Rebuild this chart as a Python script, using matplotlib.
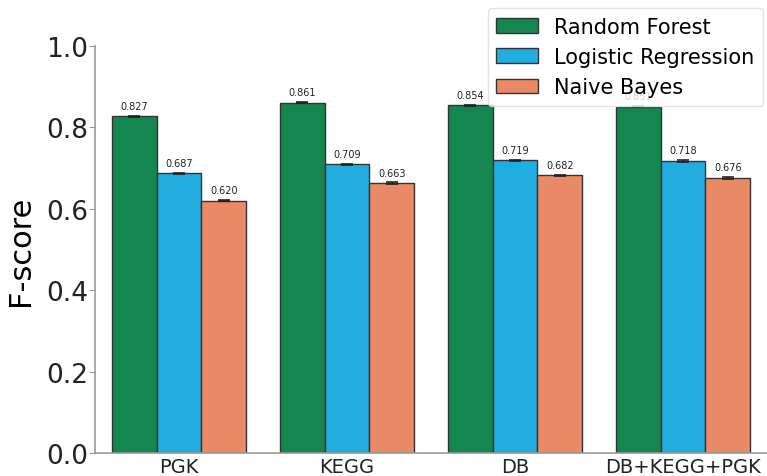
import matplotlib.pyplot as plt
import numpy as np

categories = ["PGK", "KEGG", "DB", "DB+KEGG+PGK"]
models = ["Random Forest", "Logistic Regression", "Naive Bayes"]
rf_scores = [0.827, 0.861, 0.854, 0.851]
lr_scores = [0.687, 0.709, 0.719, 0.718]
nb_scores = [0.620, 0.663, 0.682, 0.676]
rf_err = [0.002, 0.002, 0.002, 0.002]
lr_err = [0.002, 0.002, 0.002, 0.002]
nb_err = [0.002, 0.002, 0.002, 0.002]

colors = ["#13874f", "#22ade0", "#e98965"]

fig = plt.figure(figsize=(7.67, 4.77), dpi=100)
ax = fig.add_axes([95 / 767, 23 / 477, 672 / 767, 407 / 477])

x = np.arange(len(categories))
width = 0.8 / 3
series = [(rf_scores, rf_err), (lr_scores, lr_err), (nb_scores, nb_err)]
for i, (vals, errs) in enumerate(series):
    pos = x + (i - 1) * width
    ax.bar(pos, vals, width, yerr=errs, color=colors[i], edgecolor="#333333",
           linewidth=1.0, label=models[i], capsize=4,
           error_kw=dict(ecolor="#222222", elinewidth=1.2, capthick=1.2))
    for p, v in zip(pos, vals):
        ax.annotate(f"{v:.3f}", (p, v), xytext=(0, 4), textcoords="offset points",
                    ha="center", va="bottom", fontsize=7, color="#222222")

ax.set_xlim(-0.5, len(categories) - 0.5)
ax.set_ylim(0, 1.0)
ax.set_xticks(x)
ax.set_xticklabels(categories, fontsize=14)
ax.set_yticks(np.arange(0, 1.01, 0.2))
ax.set_yticklabels([f"{t:.1f}" for t in np.arange(0, 1.01, 0.2)], fontsize=19)
ax.set_ylabel("F-score", fontsize=22, labelpad=8)
ax.tick_params(axis="x", length=0, pad=3, colors="#222222")
ax.tick_params(axis="y", length=4, pad=1, color="#999999", colors="#222222")

for s in ["top", "right"]:
    ax.spines[s].set_visible(False)
for s in ["left", "bottom"]:
    ax.spines[s].set_color("#999999")
    ax.spines[s].set_linewidth(1.2)

leg = ax.legend(loc="upper right", bbox_to_anchor=(1.0, 1.103), fontsize=15,
                frameon=True, handlelength=2.0, borderaxespad=0.2)
leg.get_frame().set_edgecolor("#dddddd")

fig.savefig("out.png", dpi=100)
